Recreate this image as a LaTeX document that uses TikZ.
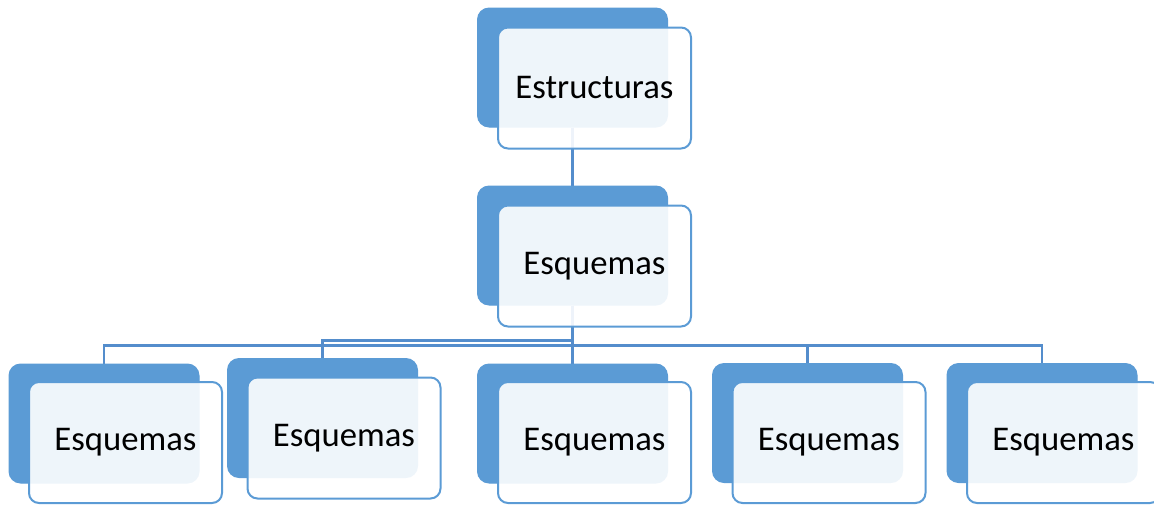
\documentclass[tikz,border=0pt]{standalone}
\usepackage{fontspec}
\setmainfont{Carlito}
\definecolor{boxblue}{RGB}{91,155,213}
\definecolor{lineblue}{RGB}{84,141,204}
\tikzset{every picture/.style={line width=0.75pt}}
\tikzset{
	backbox/.style={fill=boxblue, rounded corners=9pt, inner sep=0pt, minimum width=142.5pt, minimum height=89.25pt},
	frontbox/.style={draw=boxblue, line width=1.5pt, fill=white, fill opacity=0.9, text opacity=1, rounded corners=7.5pt, inner sep=0pt, minimum width=144.75pt, minimum height=90.75pt, font=\fontsize{26}{31}\selectfont},
	link/.style={draw=lineblue, line width=1.6pt}}

\begin{document}
\begin{tikzpicture}[x=0.75pt,y=0.75pt,yscale=-1,xscale=1]
	%set diagram at 1154 x 504
	\clip (0,0) rectangle (1154,504);

	%Shape: Rounded Rect [back boxes]
	\node [backbox] (top) at (572.5,67.5) {};
	\node [backbox] (mid) at (572.5,245.5) {};
	\node [backbox] (ch1) at (104,423.5) {};
	\node [backbox] (ch2) at (322.5,418) {};
	\node [backbox] (ch3) at (572.5,423.5) {};
	\node [backbox] (ch4) at (807.5,423) {};
	\node [backbox] (ch5) at (1042,423) {};

	%Straight Lines [connectors]
	\draw [link] (top.south) -- (mid.north) ;
	\draw [link] (mid.south) -- ++(0,40) -| (ch1.north) ;
	\draw [link] (mid.south) -- ++(0,35) -| (ch2.north) ;
	\draw [link] (mid.south) -- (ch3.north) ;
	\draw [link] (mid.south) -- ++(0,40) -| (ch4.north) ;
	\draw [link] (mid.south) -- ++(0,40) -| (ch5.north) ;

	%Shape: Rounded Rect [back boxes, drawn again over the lines]
	\foreach \b in {top,mid,ch1,ch2,ch3,ch4,ch5}
		\fill [boxblue, rounded corners=9pt] (\b.north west) rectangle (\b.south east) ;

	% Text Node
	\node [frontbox] (ttop) at ([shift={(22,20.5)}]top) {Estructuras};
	% Text Node
	\node [frontbox] (tmid) at ([shift={(22,20.5)}]mid) {Esquemas};
	% Text Node
	\node [frontbox] (tch1) at ([shift={(21.5,19)}]ch1) {Esquemas};
	% Text Node
	\node [frontbox] (tch2) at ([shift={(21.5,20)}]ch2) {Esquemas};
	% Text Node
	\node [frontbox] (tch3) at ([shift={(22,19)}]ch3) {Esquemas};
	% Text Node
	\node [frontbox] (tch4) at ([shift={(21.5,19.5)}]ch4) {Esquemas};
	% Text Node
	\node [frontbox] (tch5) at ([shift={(21.5,19.5)}]ch5) {Esquemas};

\end{tikzpicture}
\end{document}
